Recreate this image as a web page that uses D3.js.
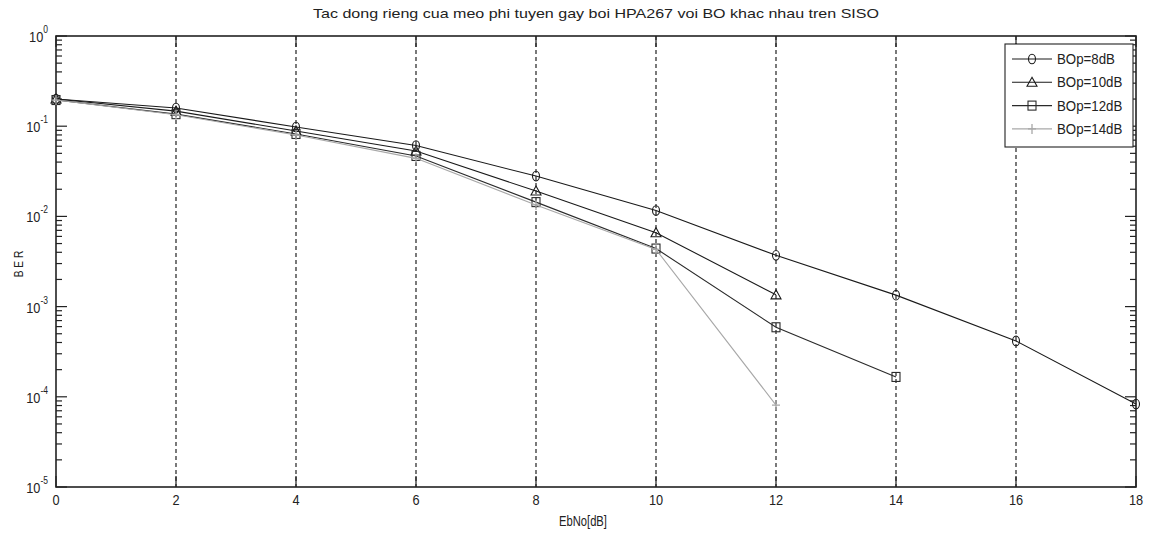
<!DOCTYPE html>
<html>
<head>
<meta charset="utf-8">
<script src="https://cdn.jsdelivr.net/npm/d3@7"></script>
<style>
  html, body { margin: 0; padding: 0; background: #fff; }
  svg text { font-family: "Liberation Sans", Arial, sans-serif; fill: #222; }
</style>
</head>
<body>
<svg id="chart" width="1153" height="534"></svg>
<script>
// Eb/N0 values in dB
const ebno = [0, 2, 4, 6, 8, 10, 12, 14, 16, 18];

// BER for each back-off level
const berBO8  = [0.2, 0.159, 0.098, 0.061, 0.028, 0.0116, 0.0037, 0.00134, 0.000416, 0.000083];
const berBO10 = [0.2, 0.147, 0.0885, 0.053, 0.0191, 0.0066, 0.00135];
const berBO12 = [0.195, 0.136, 0.082, 0.0468, 0.0144, 0.0044, 0.00059, 0.000166];
const berBO14 = [0.195, 0.134, 0.080, 0.044, 0.0134, 0.0043, 0.000081];

const seriesNames = ["BOp=8dB", "BOp=10dB", "BOp=12dB", "BOp=14dB"];
const xTicks = [0, 2, 4, 6, 8, 10, 12, 14, 16, 18];
const yDecades = [0, -1, -2, -3, -4, -5];

const titleText = "Tac dong rieng cua meo phi tuyen gay boi HPA267 voi BO khac nhau tren SISO";
const xLabel = "EbNo[dB]";
const yLabel = "B E R";

const series = [
  { name: seriesNames[0], values: berBO8,  marker: "circle",   color: "#1a1a1a" },
  { name: seriesNames[1], values: berBO10, marker: "triangle", color: "#1a1a1a" },
  { name: seriesNames[2], values: berBO12, marker: "square",   color: "#2a2a2a" },
  { name: seriesNames[3], values: berBO14, marker: "plus",     color: "#a8a8a8" }
];

const svg = d3.select("#chart");
const L = 56, R = 1136, T = 36, B = 487;

const x = d3.scaleLinear().domain([0, 18]).range([L, R]);
const y = d3.scaleLog().domain([1e-5, 1]).range([B, T]);

// text helper with a horizontal squeeze for a condensed look
function ctext(parent, tx, ty, str, size, anchor, sx) {
  return parent.append("text")
    .attr("transform", `translate(${tx},${ty}) scale(${sx},1)`)
    .attr("text-anchor", anchor || "start")
    .attr("font-size", size)
    .text(str);
}

// vertical dashed grid
svg.append("g").selectAll("line")
  .data(xTicks.slice(1, -1))
  .join("line")
  .attr("x1", d => x(d)).attr("x2", d => x(d))
  .attr("y1", T).attr("y2", B)
  .attr("stroke", "#222").attr("stroke-width", 1.2)
  .attr("stroke-dasharray", "4,3");

// minor log ticks
const minor = [];
for (let e = -5; e < 0; e++) for (let m = 2; m <= 9; m++) minor.push(m * Math.pow(10, e));

const tickG = svg.append("g").attr("stroke", "#222").attr("stroke-width", 1.2);
xTicks.forEach(v => {
  tickG.append("line").attr("x1", x(v)).attr("x2", x(v)).attr("y1", B).attr("y2", B - 11);
  tickG.append("line").attr("x1", x(v)).attr("x2", x(v)).attr("y1", T).attr("y2", T + 11);
});
yDecades.forEach(e => {
  const yy = y(Math.pow(10, e));
  tickG.append("line").attr("x1", L).attr("x2", L + 11).attr("y1", yy).attr("y2", yy);
  tickG.append("line").attr("x1", R).attr("x2", R - 11).attr("y1", yy).attr("y2", yy);
});
minor.forEach(v => {
  const yy = y(v);
  tickG.append("line").attr("x1", L).attr("x2", L + 6).attr("y1", yy).attr("y2", yy);
  tickG.append("line").attr("x1", R).attr("x2", R - 6).attr("y1", yy).attr("y2", yy);
});

// frame
svg.append("rect")
  .attr("x", L).attr("y", T).attr("width", R - L).attr("height", B - T)
  .attr("fill", "none").attr("stroke", "#222").attr("stroke-width", 1.6);

// x tick labels
const xl = svg.append("g");
xTicks.forEach(v => ctext(xl, x(v), B + 18, v, 15, "middle", 0.85));

// y tick labels with exponent
const yl = svg.append("g");
yDecades.forEach(e => {
  const yy = y(Math.pow(10, e));
  const t = ctext(yl, L - 8, yy + 6, "", 15, "end", 0.85);
  t.append("tspan").text("10");
  t.append("tspan").attr("dy", -9).attr("font-size", 10).text(e);
});

// title and axis labels
svg.append("text")
  .attr("x", 596).attr("y", 18)
  .attr("text-anchor", "middle")
  .attr("font-size", 13)
  .attr("textLength", 566).attr("lengthAdjust", "spacingAndGlyphs")
  .text(titleText);

ctext(svg, 583, 526, xLabel, 14, "middle", 0.8);

svg.append("text")
  .attr("transform", "translate(23,264) rotate(-90) scale(0.85,1)")
  .attr("text-anchor", "middle")
  .attr("font-size", 12)
  .text(yLabel);

// marker drawing
function drawMarker(g, type, cx, cy, color) {
  if (type === "circle") {
    g.append("ellipse").attr("cx", cx).attr("cy", cy).attr("rx", 3.5).attr("ry", 4.8)
      .attr("fill", "none").attr("stroke", color).attr("stroke-width", 1.1);
  } else if (type === "triangle") {
    g.append("path").attr("d", `M${cx},${cy - 5}L${cx + 5},${cy + 4}L${cx - 5},${cy + 4}Z`)
      .attr("fill", "none").attr("stroke", color).attr("stroke-width", 1.1);
  } else if (type === "square") {
    g.append("rect").attr("x", cx - 4).attr("y", cy - 4.5).attr("width", 8).attr("height", 9)
      .attr("fill", "none").attr("stroke", color).attr("stroke-width", 1.1);
  } else {
    g.append("path").attr("d", `M${cx - 4},${cy}H${cx + 4}M${cx},${cy - 5}V${cy + 5}`)
      .attr("fill", "none").attr("stroke", color).attr("stroke-width", 1.3);
  }
}

const line = d3.line().x(d => x(d[0])).y(d => y(d[1]));
const plot = svg.append("g");
series.forEach(s => {
  const pts = s.values.map((v, i) => [ebno[i], v]);
  plot.append("path").datum(pts)
    .attr("d", line)
    .attr("fill", "none").attr("stroke", s.color).attr("stroke-width", 1.1);
  const mg = plot.append("g");
  pts.forEach(p => drawMarker(mg, s.marker, x(p[0]), y(p[1]), s.color));
});

// legend
const lg = svg.append("g");
lg.append("rect").attr("x", 1005).attr("y", 44).attr("width", 128).attr("height", 103)
  .attr("fill", "#fff").attr("stroke", "#222").attr("stroke-width", 1.1);
series.forEach((s, i) => {
  const yy = 59 + i * 23.3;
  lg.append("line").attr("x1", 1012).attr("x2", 1052).attr("y1", yy).attr("y2", yy)
    .attr("stroke", s.color).attr("stroke-width", 1.1);
  drawMarker(lg, s.marker, 1032, yy, s.color);
  ctext(lg, 1057, yy + 5, s.name, 14, "start", 0.95);
});
</script>
</body>
</html>
